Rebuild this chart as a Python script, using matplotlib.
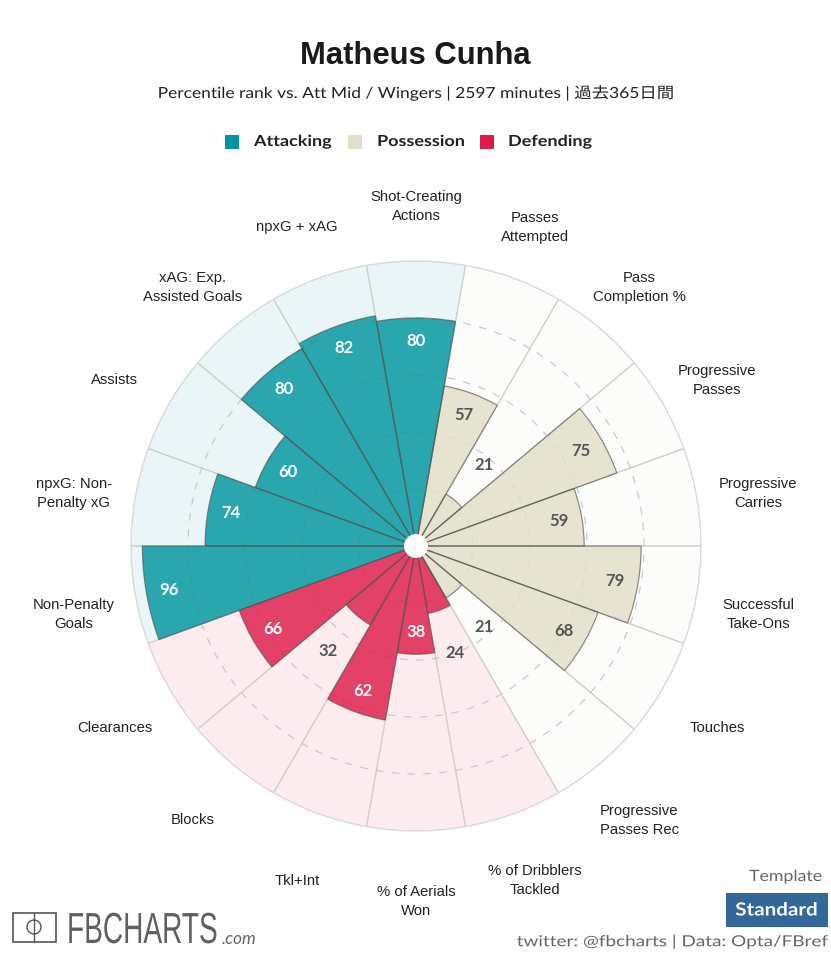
import numpy as np
import matplotlib
matplotlib.use("Agg")
import matplotlib.pyplot as plt
import matplotlib.patheffects as pe
from matplotlib.patches import Rectangle, Circle
from matplotlib.transforms import Affine2D

# values clockwise from the top
METRICS = ['Shot-Creating\nActions', 'Passes\nAttempted', 'Pass\nCompletion %',
           'Progressive\nPasses', 'Progressive\nCarries', 'Successful\nTake-Ons',
           'Touches', 'Progressive\nPasses Rec', '% of Dribblers\nTackled',
           '% of Aerials\nWon', 'Tkl+Int', 'Blocks', 'Clearances',
           'Non-Penalty\nGoals', 'npxG: Non-\nPenalty xG', 'Assists',
           'xAG: Exp.\nAssisted Goals', 'npxG + xAG']
VALUES = [80, 57, 21, 75, 59, 79, 68, 21, 24, 38, 62, 32, 66, 96, 74, 60, 80, 82]
GROUPS = ['att', 'pos', 'pos', 'pos', 'pos', 'pos', 'pos', 'pos', 'def',
          'def', 'def', 'def', 'def', 'att', 'att', 'att', 'att', 'att']
RINGS = [20, 40, 60, 80]

COLORS = {'att': '#00969f', 'pos': '#e3dec9', 'def': '#de1b4a'}
LEGEND = [('Attacking', 'att'), ('Possession', 'pos'), ('Defending', 'def')]

CX, CY, RADIUS = 416, 546, 285
W, H = 831, 955


class Stretch(pe.AbstractPathEffect):
    # the reference font is letter-spaced, matplotlib can't do that so widen the glyphs
    def __init__(self, x0, y0, sx=1.0, sy=1.0):
        super().__init__()
        self.tr = Affine2D().translate(-x0, -y0).scale(sx, sy).translate(x0, y0)

    def draw_path(self, renderer, gc, tpath, affine, rgbFace=None):
        renderer.draw_path(gc, tpath, affine + self.tr, rgbFace)


def wide_text(ax, x, y, s, sx, sy=1.0, **kw):
    t = ax.text(x, y, s, **kw)
    t.set_path_effects([Stretch(x, H - y, sx, sy)])
    return t


fig = plt.figure(figsize=(W / 100, H / 100), dpi=100, facecolor='white')

ax = fig.add_axes([(CX - RADIUS) / W, (H - CY - RADIUS) / H, 2 * RADIUS / W, 2 * RADIUS / H],
                  projection='polar')
ax.set_theta_zero_location('N')
ax.set_theta_direction(-1)
ax.set_ylim(0, 100)
ax.axis('off')

theta = np.deg2rad(np.arange(len(VALUES)) * 360 / len(VALUES))
width = 2 * np.pi / len(VALUES)
cols = [COLORS[g] for g in GROUPS]

# pale full-length wedges
ax.bar(theta, [100] * len(VALUES), width=width, color=cols, alpha=0.085, zorder=1)
ax.bar(theta, [100] * len(VALUES), width=width, color='none', edgecolor='#cfcfcb',
       linewidth=0.8, zorder=1.5)

t = np.linspace(0, 2 * np.pi, 361)
for r in RINGS:
    ax.plot(t, [r] * len(t), color='#c8c8c8', lw=0.85, dashes=(6.5, 7), zorder=2)
ax.plot(t, [100] * len(t), color='#dadada', lw=0.9, zorder=2, clip_on=False)

ax.bar(theta, VALUES, width=width, color=cols, alpha=0.82, zorder=3)
ax.bar(theta, VALUES, width=width, color='none', edgecolor=(0.33, 0.33, 0.33, 0.65),
       linewidth=0.9, zorder=3.5)
ax.bar(0, 4.2, width=2 * np.pi, color='white', zorder=5)

for th, v, g, name in zip(theta, VALUES, GROUPS, METRICS):
    # small bars carry their number outside the bar
    inside = v >= 35
    r = v - 8 if inside else v + 16
    col = '#555555' if (g == 'pos' or not inside) else 'white'
    ax.text(th, r, str(v), ha='center', va='center', color=col, fontsize=12,
            fontweight='bold', family='Lato', zorder=6)
    ax.annotate(name, xy=(th, 122), xytext=(0, -8), textcoords='offset pixels',
                ha='center', va='center', fontsize=10.7, color='#222222',
                family='Liberation Sans', annotation_clip=False, linespacing=1.45)

# overlay in pixel coordinates for header and footer
ov = fig.add_axes([0, 0, 1, 1], facecolor='none')
ov.set_xlim(0, W)
ov.set_ylim(H, 0)
ov.axis('off')

ov.text(415.5, 56, 'Matheus Cunha', ha='center', va='center', fontsize=22.3,
        fontweight='bold', family='Liberation Sans', color='#1a1a1a')
wide_text(ov, 415.5, 93, 'Percentile rank vs. Att Mid / Wingers | 2597 minutes | 過去365日間', 1.14,
          ha='center', va='center', fontsize=11, color='#222222',
          family=['Lato', 'Noto Sans CJK JP'])

for (name, g), sx, tx in zip(LEGEND, [225, 348, 480], [254, 377, 508]):
    ov.add_patch(Rectangle((sx, 135), 14, 14, facecolor=COLORS[g], edgecolor='none'))
    wide_text(ov, tx, 142, name, 1.18, ha='left', va='center', fontsize=11, fontweight='bold',
              family='Lato', color='#222222')

wide_text(ov, 822, 877, 'Template', 1.14, ha='right', va='center', fontsize=11.2,
          color='#666666', family='Lato')
ov.add_patch(Rectangle((726, 893), 102, 34, facecolor='#336699', edgecolor='none'))
wide_text(ov, 776.5, 910, 'Standard', 1.14, ha='center', va='center', fontsize=13, fontweight='bold',
          color='white', family='Lato')
wide_text(ov, 827, 942, 'twitter: @fbcharts | Data: Opta/FBref', 1.24, ha='right', va='center',
          fontsize=11, color='#666666', family='Lato')

# logo
ov.add_patch(Rectangle((12.5, 912.5), 43, 29, facecolor='none', edgecolor='#555555', lw=1.2))
ov.plot([34, 34], [912.5, 941.5], color='#555555', lw=1)
ov.add_patch(Circle((34, 927), 7, facecolor='none', edgecolor='#555555', lw=1))
wide_text(ov, 67, 943, 'FBCHARTS', 1.0, 1.55, ha='left', va='baseline', fontsize=20.2,
          color='#606060', family='Liberation Sans')
ov.text(222, 939, '.com', ha='left', va='center', fontsize=12.5, style='italic', color='#666666',
        family='Lato')

fig.savefig('out.png', dpi=100)
